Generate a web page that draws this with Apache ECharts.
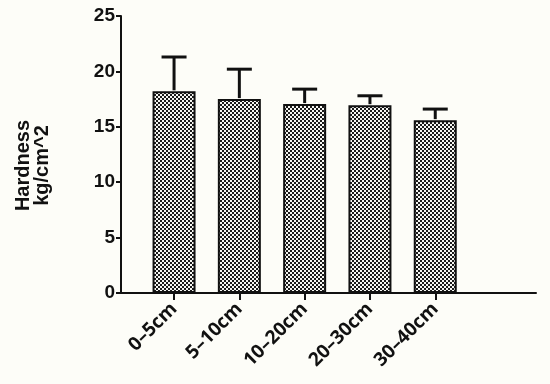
<!DOCTYPE html>
<html><head><meta charset="utf-8">
<script src="https://cdn.jsdelivr.net/npm/echarts@6/dist/echarts.min.js"></script>
<style>html,body{margin:0;padding:0;background:#fdfdf8;}#c{width:550px;height:384px;}</style>
</head><body><div id="c"></div>
<script>
const categories = ['0–5cm', '5–10cm', '10–20cm', '20–30cm', '30–40cm'];
const hardness = [18.2, 17.5, 17.05, 16.95, 15.6];
const errorUpper = [21.3, 20.2, 18.4, 17.8, 16.6];
const yTicks = [0, 5, 10, 15, 20, 25];

const pc = document.createElement('canvas');
pc.width = 4; pc.height = 4;
const g = pc.getContext('2d');
g.fillStyle = '#f6f6f2'; g.fillRect(0, 0, 4, 4);
g.fillStyle = '#1a1a1a';
g.fillRect(0, 0, 2, 2); g.fillRect(2, 2, 2, 2);

const chart = echarts.init(document.getElementById('c'), null, {renderer: 'canvas'});
const bold = {fontFamily: 'Liberation Sans, Arial, sans-serif', fontWeight: 'bold', color: '#111'};
chart.setOption({
  backgroundColor: '#fdfdf8',
  animation: false,
  grid: [
    {left: 141.4, width: 326.5, top: 16, bottom: 91},
    {left: 121, right: 14, top: 16, bottom: 91}
  ],
  xAxis: [
    {type: 'category', gridIndex: 0, data: categories,
     axisLine: {show: false},
     axisTick: {show: true, alignWithLabel: true, length: 7, lineStyle: {color: '#111', width: 2}},
     axisLabel: {rotate: 45, margin: 13, fontSize: 19, fontWeight: 'bold', fontFamily: 'Open Sans, sans-serif', color: '#111'}},
    {type: 'value', gridIndex: 1, min: 0, max: 1, show: true,
     axisLine: {show: true, lineStyle: {color: '#111', width: 2}},
     axisTick: {show: false}, axisLabel: {show: false}, splitLine: {show: false}}
  ],
  yAxis: [
    {type: 'value', gridIndex: 0, min: 0, max: 25, show: false},
    {type: 'value', gridIndex: 1, min: 0, max: 25, interval: 5,
     name: 'Hardness\nkg/cm^2', nameLocation: 'middle', nameGap: 69, nameRotate: 90,
     nameTextStyle: Object.assign({fontSize: 20, lineHeight: 19, padding: [0, 0, 0, -22]}, bold),
     axisLine: {show: true, lineStyle: {color: '#111', width: 2}},
     axisTick: {show: true, length: 5, lineStyle: {color: '#111', width: 2}},
     axisLabel: Object.assign({fontSize: 19, margin: 6, formatter: v => yTicks.includes(v) ? String(v) : ''}, bold),
     splitLine: {show: false}}
  ],
  series: [
    {type: 'bar', xAxisIndex: 0, yAxisIndex: 0, data: hardness, barWidth: 43,
     itemStyle: {color: {image: pc, repeat: 'repeat'}, borderColor: '#111', borderWidth: 2}},
    {type: 'custom', xAxisIndex: 0, yAxisIndex: 0,
     data: hardness.map((v, i) => [i, v, errorUpper[i]]),
     renderItem: function (params, api) {
       const base = api.coord([api.value(0), api.value(1)]);
       const top = api.coord([api.value(0), api.value(2)]);
       const half = 12.5;
       return {type: 'group', children: [
         {type: 'line', shape: {x1: base[0], y1: base[1] - 1, x2: top[0], y2: top[1]}, style: {stroke: '#111', lineWidth: 3}},
         {type: 'line', shape: {x1: top[0] - half, y1: top[1], x2: top[0] + half, y2: top[1]}, style: {stroke: '#111', lineWidth: 3}}
       ]};
     }, z: 3}
  ]
});
</script></body></html>
